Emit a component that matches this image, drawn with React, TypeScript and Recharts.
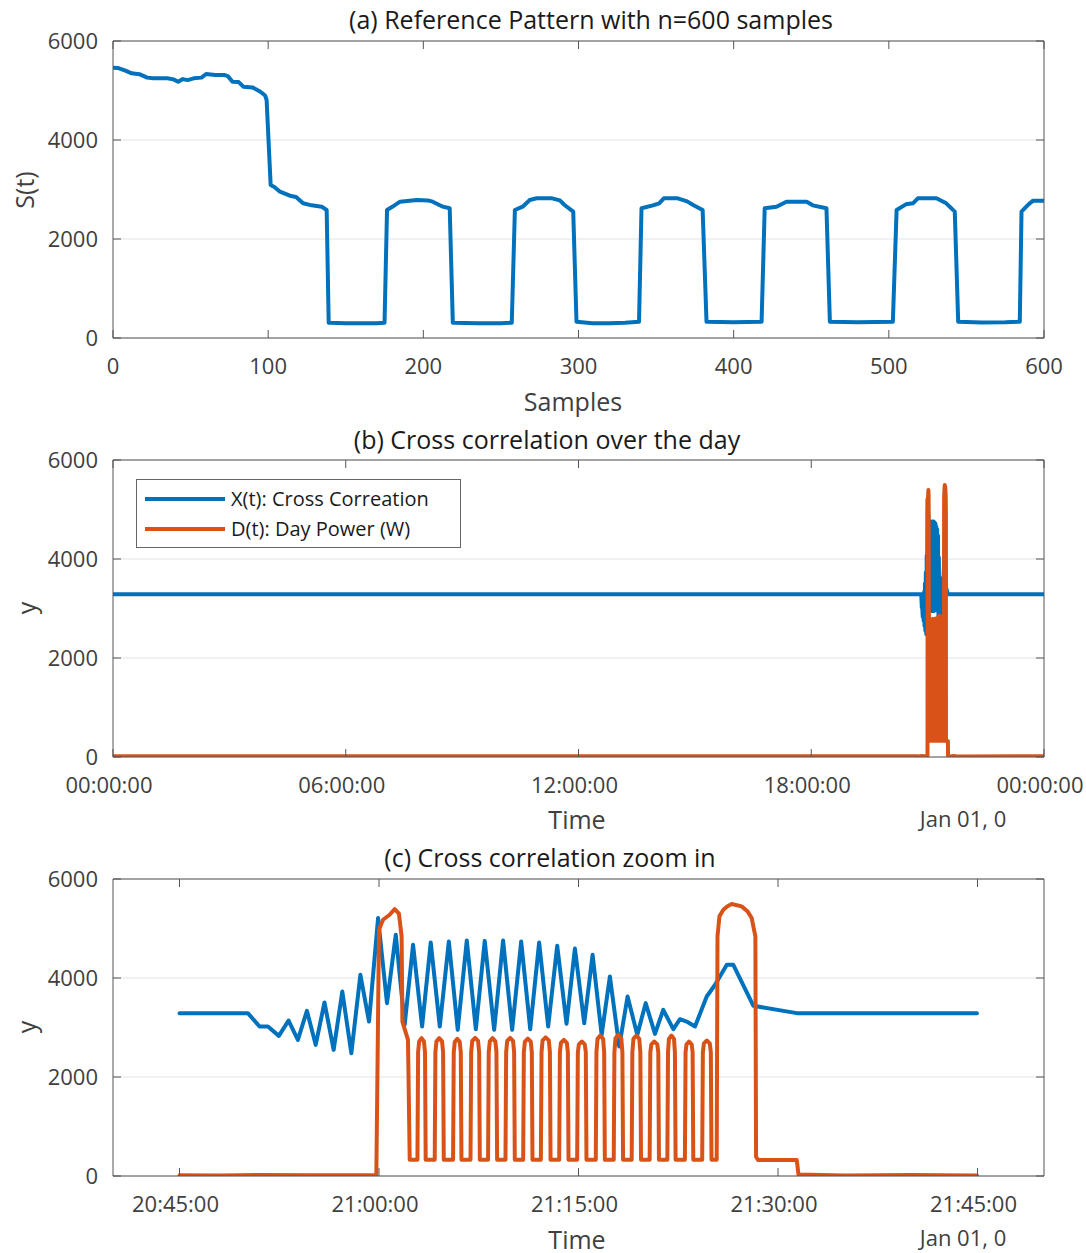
import { LineChart, Line, XAxis, YAxis, CartesianGrid } from "recharts";

// (a) reference pattern, [sample, S(t)]
const referencePattern: [number, number][] = [
  [0, 5460], [3, 5455], [8, 5400], [12, 5347], [17, 5330], [22, 5260], [26, 5246],
  [35, 5246], [39, 5225], [42, 5178], [45, 5230], [48, 5210], [52, 5246], [57, 5260],
  [60, 5333], [66, 5313], [72, 5313], [74, 5290], [77, 5178], [81, 5170], [84, 5077],
  [90, 5060], [95, 4976], [98, 4900], [99, 4808], [101.6, 3091], [104, 3050],
  [107.6, 2956], [114, 2875], [118, 2850], [122.5, 2721], [128, 2680], [134.5, 2653],
  [137.7, 2586], [139, 310], [150, 300], [160, 296], [170, 300], [175, 310],
  [176.6, 2586], [180, 2650], [185, 2754], [195.7, 2788], [203, 2780], [206, 2754],
  [212.6, 2653], [217, 2620], [219, 310], [235, 300], [250, 300], [257, 310],
  [259, 2586], [264, 2653], [268.6, 2788], [273, 2822], [283, 2822], [288, 2780],
  [291, 2687], [296.6, 2552], [298.7, 330], [309, 300], [320, 296], [330, 310],
  [339, 330], [340.6, 2620], [348, 2680], [352, 2721], [355, 2822], [364, 2822],
  [370, 2760], [373.9, 2687], [380, 2586], [382.5, 330], [400, 320], [418, 330],
  [420, 2620], [427.6, 2653], [434, 2754], [447, 2754], [451, 2680], [459.8, 2620],
  [462, 330], [480, 320], [502.6, 330], [505, 2586], [511, 2700], [515.5, 2721],
  [518.7, 2822], [530.7, 2822], [537, 2721], [542.5, 2552], [544.7, 330], [560, 315],
  [575, 320], [584.4, 330], [585.5, 2552], [590, 2700], [593, 2774], [600, 2774],
];

// (b)/(c) cross correlation, [minutes after 20:45, value]
const crossCorrelation: [number, number][] = [
  [0, 3290], [5.14, 3290], [6.02, 3020], [6.65, 3020], [7.47, 2831], [8.2, 3141],
  [8.9, 2750], [9.58, 3337], [10.24, 2649], [10.9, 3505], [11.59, 2548], [12.24, 3727],
  [12.92, 2481], [13.6, 4065], [14.25, 3120], [14.93, 5211], [15.6, 3492], [16.26, 4874],
  [16.93, 3054], [17.56, 4671], [18.24, 3020], [18.89, 4718], [19.57, 3020], [20.25, 4738],
  [20.92, 2952], [21.6, 4759], [22.28, 2966], [22.95, 4750], [23.66, 2952], [24.33, 4759],
  [25.01, 2952], [25.69, 4738], [26.37, 2966], [27.04, 4718], [27.72, 3020], [28.4, 4651],
  [29.1, 3074], [29.73, 4597], [30.43, 3087], [31.06, 4469], [31.74, 2851], [32.36, 4031],
  [33.06, 2615], [33.69, 3626], [34.42, 2851], [35.05, 3492], [35.75, 2872], [36.37, 3357],
  [37.13, 2966], [37.63, 3168], [38.13, 3120], [38.76, 3020], [39.64, 3626], [40.27, 3863],
  [41.15, 4267], [41.64, 4267], [43.15, 3438], [46.41, 3290], [59.96, 3290],
];

// (b)/(c) day power, [minutes after 20:45, watts]
const dayPower: [number, number][] = [
  [0, 15], [3, 10], [6, 20], [10, 15], [14.8, 20], [15.0, 4975], [15.3, 5177],
  [15.8, 5278], [16.18, 5393], [16.5, 5300], [16.7, 4840], [16.76, 3120], [17.18, 2750],
  [17.31, 330],
  [17.89, 330], [17.94, 2500], [18.02, 2720], [18.2, 2785], [18.38, 2720], [18.46, 2500], [18.51, 330],
  [19.19, 330], [19.24, 2500], [19.32, 2720], [19.53, 2785], [19.74, 2720], [19.82, 2500], [19.87, 330],
  [20.57, 330], [20.62, 2500], [20.7, 2710], [20.885, 2770], [21.07, 2710], [21.15, 2500], [21.2, 330],
  [21.88, 330], [21.93, 2500], [22.01, 2730], [22.23, 2790], [22.45, 2730], [22.53, 2500], [22.58, 330],
  [23.2, 330], [23.25, 2500], [23.33, 2720], [23.54, 2785], [23.75, 2720], [23.83, 2500], [23.88, 330],
  [24.51, 330], [24.56, 2500], [24.64, 2730], [24.86, 2790], [25.08, 2730], [25.16, 2500], [25.21, 330],
  [25.84, 330], [25.89, 2500], [25.97, 2715], [26.19, 2775], [26.41, 2715], [26.49, 2500], [26.54, 330],
  [27.17, 330], [27.22, 2500], [27.3, 2740], [27.53, 2800], [27.77, 2740], [27.85, 2500], [27.9, 330],
  [28.55, 330], [28.6, 2500], [28.68, 2690], [28.9, 2750], [29.12, 2690], [29.2, 2500], [29.25, 330],
  [29.9, 330], [29.95, 2500], [30.03, 2660], [30.25, 2716], [30.47, 2660], [30.55, 2500], [30.6, 330],
  [31.3, 330], [31.35, 2500], [31.43, 2770], [31.64, 2838], [31.85, 2770], [31.93, 2500], [31.98, 330],
  [32.65, 330], [32.7, 2500], [32.78, 2780], [33.0, 2851], [33.22, 2780], [33.3, 2500], [33.35, 330],
  [34.0, 330], [34.05, 2500], [34.13, 2770], [34.35, 2838], [34.57, 2770], [34.65, 2500], [34.7, 330],
  [35.35, 330], [35.4, 2500], [35.48, 2660], [35.7, 2716], [35.92, 2660], [36.0, 2500], [36.05, 330],
  [36.68, 330], [36.73, 2500], [36.8, 2770], [36.99, 2838], [37.18, 2770], [37.25, 2500], [37.3, 330],
  [38.0, 330], [38.05, 2500], [38.12, 2660], [38.31, 2716], [38.51, 2660], [38.58, 2500], [38.63, 330],
  [39.3, 330], [39.35, 2500], [39.43, 2680], [39.65, 2736], [39.87, 2680], [39.95, 2500], [40.0, 330],
  [40.39, 330], [40.45, 4840], [40.6, 5250], [40.89, 5379], [41.2, 5450], [41.52, 5494],
  [42.27, 5447], [42.7, 5350], [43.02, 5211], [43.3, 4840], [43.35, 390], [43.5, 324],
  [46.41, 324], [46.54, 30], [50, 10], [55, 20], [59.96, 10],
];

const yTicks = [0, 2000, 4000, 6000];
const sampleTicks = [0, 100, 200, 300, 400, 500, 600];
const dayTicks = [0, 360, 720, 1080, 1440];
const zoomTicks = [1245, 1260, 1275, 1290, 1305];
const ZOOM_START = 1245; // 20:45 in minutes

const BLUE = "#0072BD";
const ORANGE = "#D95319";
const AXIS = "#555555";
const TEXT = "#404040";
const FONT = "'Open Sans', sans-serif";

const patternData = referencePattern.map(([t, v]) => ({ t, v }));
const crossZoomData = crossCorrelation.map(([t, v]) => ({ t: ZOOM_START + t, v }));
const powerZoomData = dayPower.map(([t, v]) => ({ t: ZOOM_START + t, v }));
const crossDayData = [{ t: 0, v: 3290 }, ...crossZoomData, { t: 1440, v: 3290 }];
const powerDayData = [{ t: 0, v: 15 }, ...powerZoomData, { t: 1440, v: 15 }];

function hms(m: number) {
  const mm = Math.round(m) % 1440;
  const h = Math.floor(mm / 60);
  const p = (n: number) => String(n).padStart(2, "0");
  return p(h) + ":" + p(mm % 60) + ":00";
}

function Panel(props: any) {
  const { height, domain, ticks, fmt, dx, lines } = props;
  const tickStyle = { fill: TEXT, fontSize: 22, dx: dx || 0 };
  return (
    <LineChart
      width={1086}
      height={height}
      margin={{ top: 40, right: 41, bottom: height - 398, left: 33 }}
    >
      <CartesianGrid vertical={false} stroke="#e3e3e3" />
      <XAxis
        type="number"
        dataKey="t"
        domain={domain}
        ticks={ticks}
        interval={0}
        allowDataOverflow
        height={60}
        tickSize={-8}
        tickMargin={28}
        stroke={AXIS}
        tick={tickStyle}
        tickFormatter={fmt}
      />
      <XAxis
        xAxisId="top"
        orientation="top"
        type="number"
        dataKey="t"
        domain={domain}
        ticks={ticks}
        interval={0}
        allowDataOverflow
        height={1}
        tickSize={-8}
        stroke={AXIS}
        tickFormatter={() => ""}
      />
      <YAxis
        type="number"
        domain={[0, 6000]}
        ticks={yTicks}
        interval={0}
        allowDataOverflow
        width={80}
        tickSize={-8}
        tickMargin={23}
        stroke={AXIS}
        tick={{ fill: TEXT, fontSize: 22 }}
      />
      <YAxis
        yAxisId="right"
        orientation="right"
        type="number"
        domain={[0, 6000]}
        ticks={yTicks}
        interval={0}
        allowDataOverflow
        width={1}
        tickSize={-8}
        stroke={AXIS}
        tickFormatter={() => ""}
      />
      {lines.map((l: any, i: number) => (
        <Line
          key={i}
          data={l.data}
          dataKey="v"
          type="linear"
          stroke={l.color}
          strokeWidth={4}
          strokeLinejoin="round"
          strokeLinecap="round"
          dot={false}
          isAnimationActive={false}
        />
      ))}
    </LineChart>
  );
}

function Caption(props: any) {
  const { x, y, text, size, color, rotate } = props;
  return (
    <div
      style={{
        position: "absolute",
        left: x,
        top: y,
        transform: `translate(-50%, -50%)${rotate ? " rotate(-90deg)" : ""}`,
        fontSize: size || 25,
        color: color || TEXT,
        lineHeight: 1,
        whiteSpace: "nowrap",
      }}
    >
      {text}
    </div>
  );
}

function DayLegend() {
  const row = (color: string, label: string, top: number) => (
    <div style={{ position: "absolute", left: 0, top, display: "flex", alignItems: "center" }}>
      <div style={{ width: 80, height: 4, background: color, marginLeft: 8, marginRight: 6 }} />
      <span style={{ fontSize: 20, color: "#1a1a1a", lineHeight: 1 }}>{label}</span>
    </div>
  );
  return (
    <div
      style={{
        position: "absolute",
        left: 136,
        top: 479,
        width: 323,
        height: 67,
        border: "1px solid #666",
        background: "#fff",
      }}
    >
      {row(BLUE, "X(t): Cross Correation", 9)}
      {row(ORANGE, "D(t): Day Power (W)", 39)}
    </div>
  );
}

export default function App() {
  return (
    <div style={{ position: "absolute", left: 0, top: 0, width: 1086, height: 1253, fontFamily: FONT, background: "#fff" }}>
      <div style={{ position: "absolute", left: 0, top: 0 }}>
        <Panel
          height={419}
          domain={[0, 600]}
          ticks={sampleTicks}
          lines={[{ data: patternData, color: BLUE }]}
        />
      </div>
      <div style={{ position: "absolute", left: 0, top: 419 }}>
        <Panel
          height={419}
          domain={[0, 1440]}
          ticks={dayTicks}
          fmt={hms}
          dx={-4}
          lines={[
            { data: crossDayData, color: BLUE },
            { data: powerDayData, color: ORANGE },
          ]}
        />
      </div>
      <div style={{ position: "absolute", left: 0, top: 838 }}>
        <Panel
          height={415}
          domain={[1240, 1310]}
          ticks={zoomTicks}
          fmt={hms}
          dx={-4}
          lines={[
            { data: crossZoomData, color: BLUE },
            { data: powerZoomData, color: ORANGE },
          ]}
        />
      </div>

      <Caption x={591} y={19} text="(a) Reference Pattern with n=600 samples" color="#1a1a1a" />
      <Caption x={573} y={401} text="Samples" />
      <Caption x={24} y={190} text="S(t)" rotate />

      <Caption x={547} y={439} text="(b) Cross correlation over the day" color="#1a1a1a" />
      <Caption x={577} y={819} text="Time" />
      <Caption x={963} y={818} text="Jan 01, 0" size={22} />
      <Caption x={26} y={608} text="y" rotate />
      <DayLegend />

      <Caption x={550} y={857} text="(c) Cross correlation zoom in" color="#1a1a1a" />
      <Caption x={577} y={1239} text="Time" />
      <Caption x={963} y={1237} text="Jan 01, 0" size={22} />
      <Caption x={26} y={1027} text="y" rotate />
    </div>
  );
}
